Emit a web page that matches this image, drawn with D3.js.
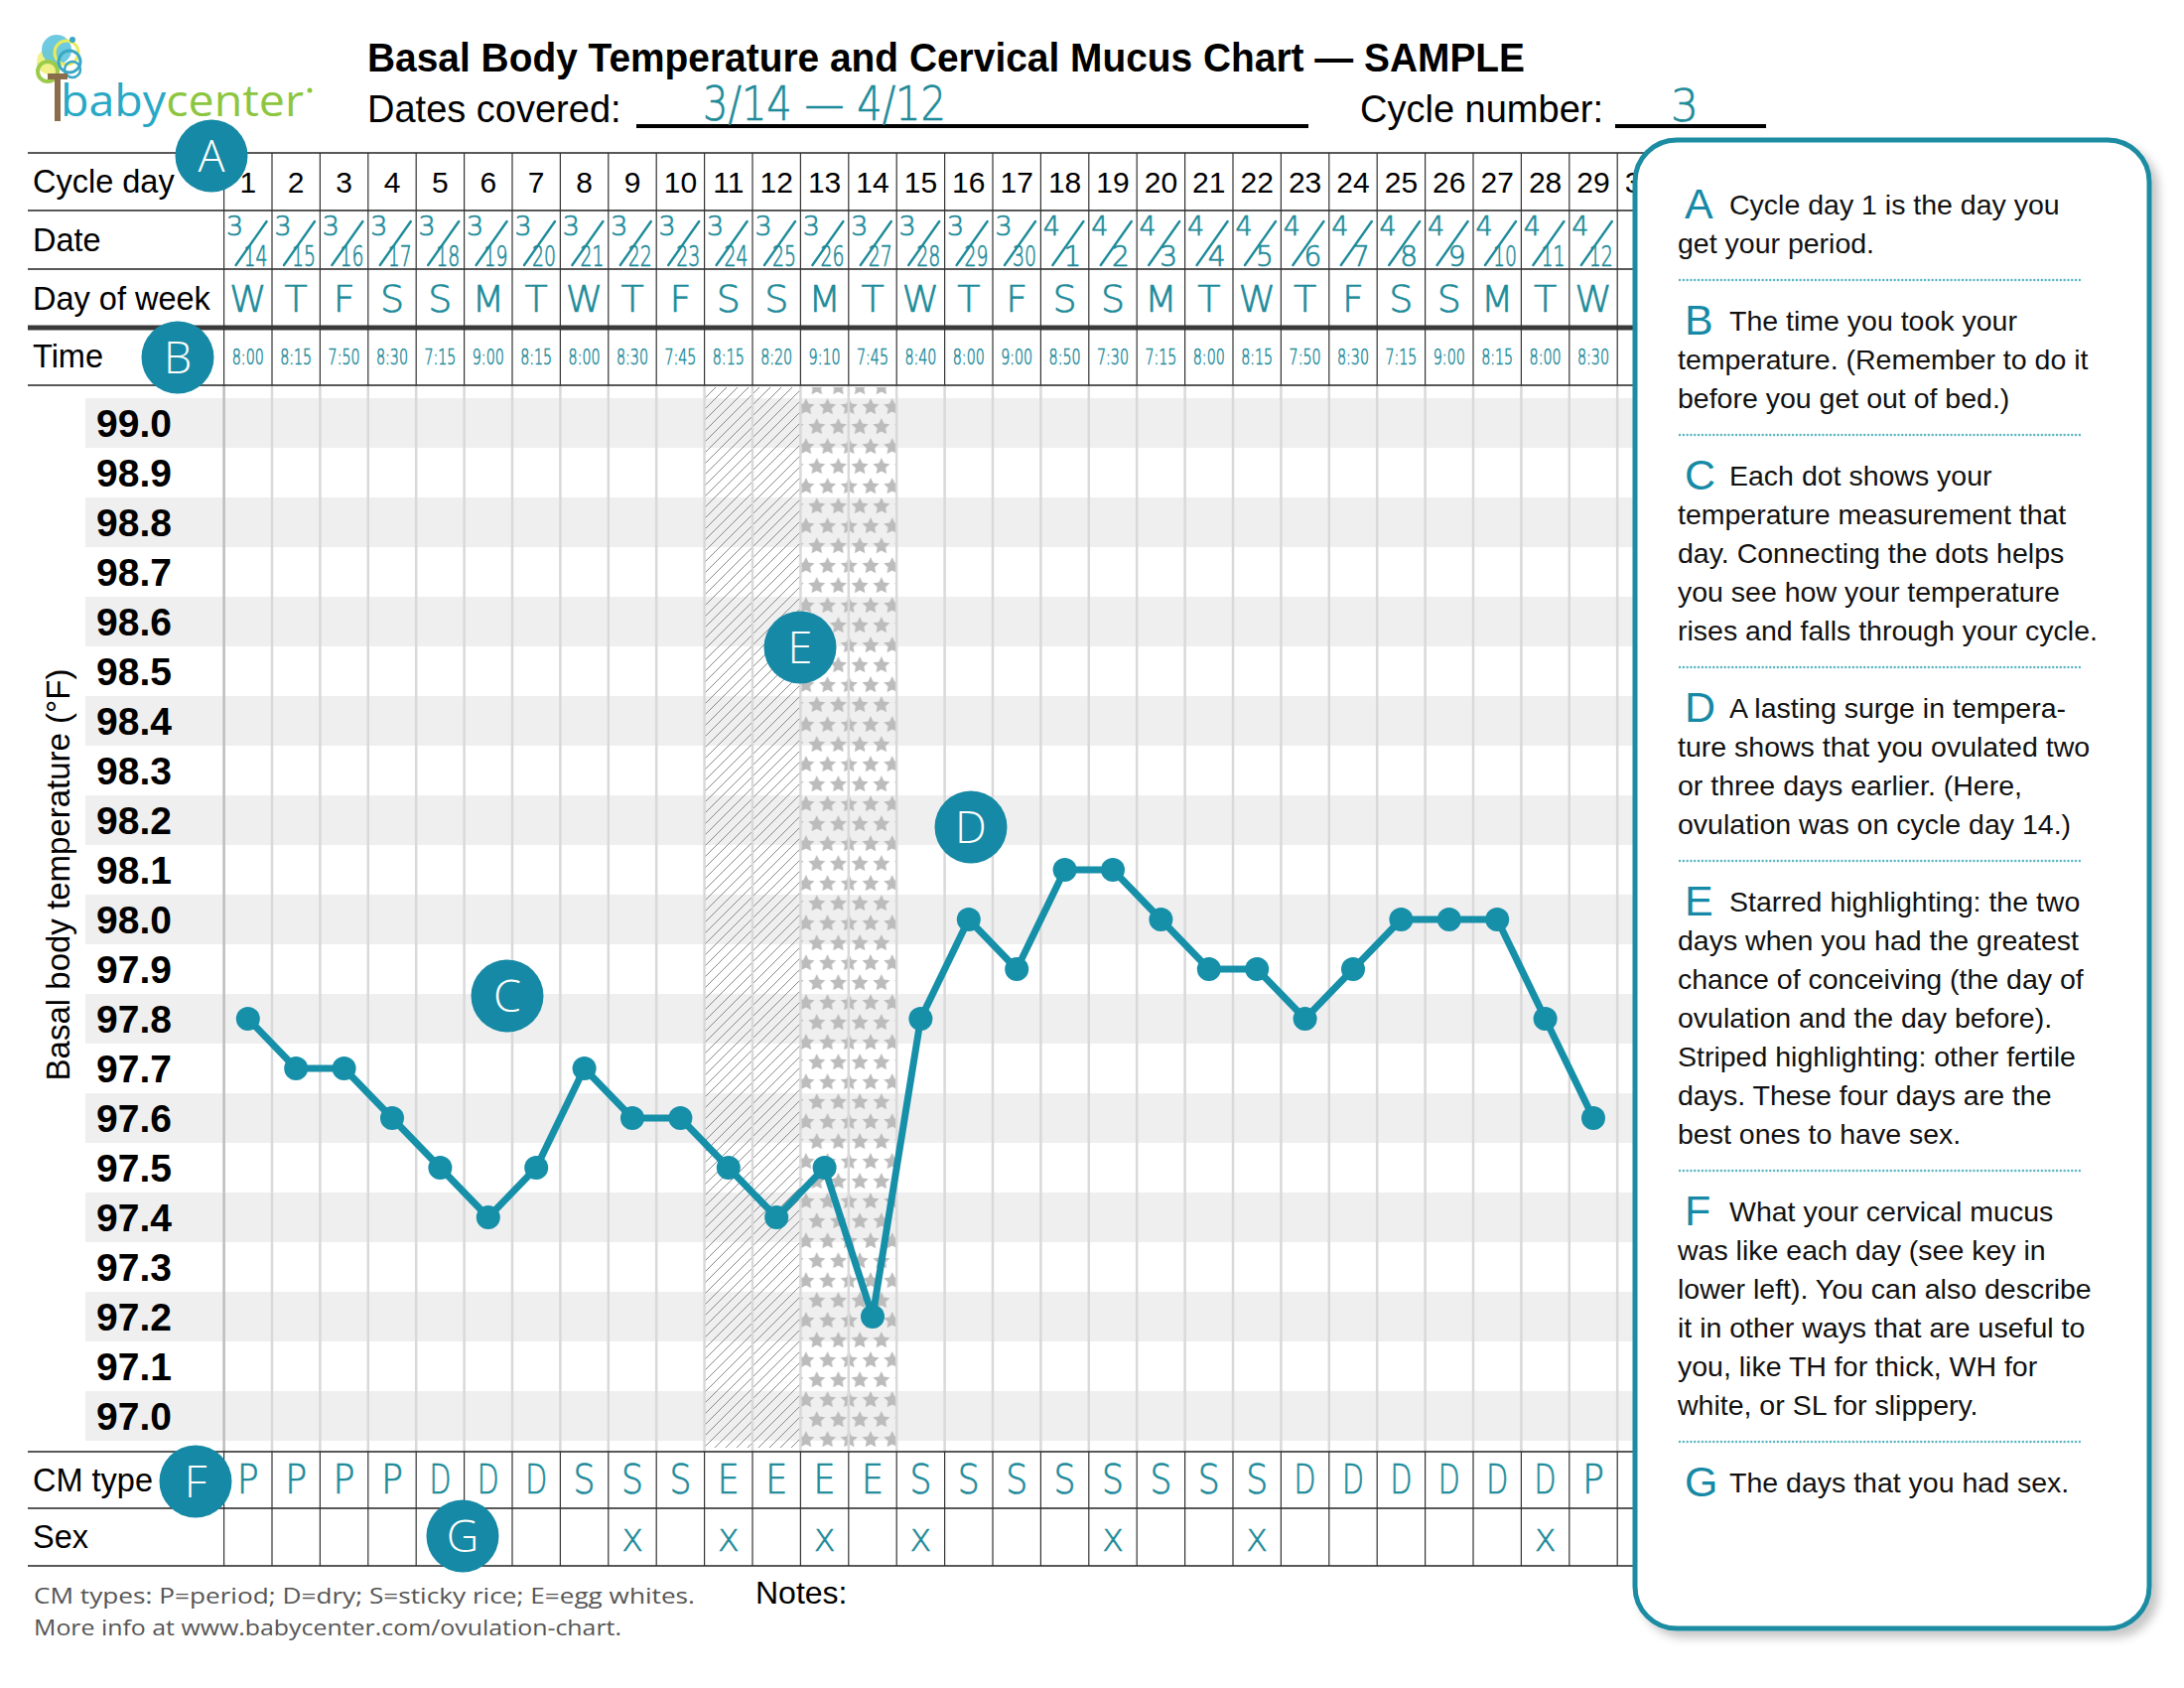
<!DOCTYPE html>
<html>
<head>
<meta charset="utf-8">
<script src="https://cdn.jsdelivr.net/npm/d3@7"></script>
<style>
  body { margin: 0; background: #fff; }
  svg { display: block; }
</style>
</head>
<body>
<svg id="chart" width="2200" height="1700"></svg>
<script>
// ---- data ----
const cycleDays = [1,2,3,4,5,6,7,8,9,10,11,12,13,14,15,16,17,18,19,20,21,22,23,24,25,26,27,28,29,30];
const dates = ["3/14","3/15","3/16","3/17","3/18","3/19","3/20","3/21","3/22","3/23","3/24","3/25","3/26","3/27",
               "3/28","3/29","3/30","4/1","4/2","4/3","4/4","4/5","4/6","4/7","4/8","4/9","4/10","4/11","4/12"];
const weekdays = ["W","T","F","S","S","M","T","W","T","F","S","S","M","T","W","T","F","S","S","M","T","W","T","F","S","S","M","T","W"];
const times = ["8:00","8:15","7:50","8:30","7:15","9:00","8:15","8:00","8:30","7:45","8:15","8:20","9:10","7:45",
               "8:40","8:00","9:00","8:50","7:30","7:15","8:00","8:15","7:50","8:30","7:15","9:00","8:15","8:00","8:30"];
const temps = [97.8,97.7,97.7,97.6,97.5,97.4,97.5,97.7,97.6,97.6,97.5,97.4,97.5,97.2,
               97.8,98.0,97.9,98.1,98.1,98.0,97.9,97.9,97.8,97.9,98.0,98.0,98.0,97.8,97.6];
const cmTypes = ["P","P","P","P","D","D","D","S","S","S","E","E","E","E",
                 "S","S","S","S","S","S","S","S","D","D","D","D","D","D","P"];
const sexDays = [9,11,13,15,19,22,28];
const tempTicks = ["99.0","98.9","98.8","98.7","98.6","98.5","98.4","98.3","98.2","98.1","98.0",
                   "97.9","97.8","97.7","97.6","97.5","97.4","97.3","97.2","97.1","97.0"];
const stripedDays = [11,12];
const starredDays = [13,14];
const rowLabels = ["Cycle day","Date","Day of week","Time"];

const notes = [
  {letter:"A", lines:["Cycle day 1 is the day you","get your period."]},
  {letter:"B", lines:["The time you took your","temperature. (Remember to do it","before you get out of bed.)"]},
  {letter:"C", lines:["Each dot shows your","temperature measurement that","day. Connecting the dots helps","you see how your temperature","rises and falls through your cycle."]},
  {letter:"D", lines:["A lasting surge in tempera-","ture shows that you ovulated two","or three days earlier. (Here,","ovulation was on cycle day 14.)"]},
  {letter:"E", lines:["Starred highlighting: the two","days when you had the greatest","chance of conceiving (the day of","ovulation and the day before).","Striped highlighting: other fertile","days. These four days are the","best ones to have sex."]},
  {letter:"F", lines:["What your cervical mucus","was like each day (see key in","lower left). You can also describe","it in other ways that are useful to","you, like TH for thick, WH for","white, or SL for slippery."]},
  {letter:"G", lines:["The days that you had sex."]}
];

// ---- layout ----
const L = {
  tableLeft: 28, tableRight: 1662,
  colLeft: 225.6, colW: 48.4,
  headRows: [154, 212, 271, 330, 388],
  plotTop: 401, rowH: 50,
  footRows: [1462, 1519, 1577],
  stripeLeft: 86
};
const badges = [
  {k:"A", x:213, y:157}, {k:"B", x:179, y:360}, {k:"C", x:511, y:1003},
  {k:"D", x:978, y:833}, {k:"E", x:806, y:652}, {k:"F", x:197, y:1492}, {k:"G", x:466, y:1547}
];

const teal = "#1589a5", hand = "#1d8b9a", lineTeal = "#168fa9";
const sans = "'Liberation Sans', Arial, Helvetica, sans-serif";
const thin = "'DejaVu Sans', sans-serif";

const svg = d3.select("#chart");
const defs = svg.append("defs");

const x = d3.scaleBand().domain(cycleDays)
  .range([L.colLeft, L.colLeft + cycleDays.length * L.colW]);
const bw = x.bandwidth();
const y = d3.scaleLinear().domain([97.0, 99.0])
  .range([L.plotTop + 20 * L.rowH + L.rowH / 2, L.plotTop + L.rowH / 2]);

// handwritten-looking teal text
function handText(sel, size) {
  return sel.attr("font-family", thin).attr("font-weight", 200)
    .attr("font-size", size).attr("fill", hand)
    .attr("stroke", hand).attr("stroke-width", 0.7);
}

// patterns
const hatch = defs.append("pattern").attr("id", "hatch")
  .attr("patternUnits", "userSpaceOnUse").attr("width", 11).attr("height", 11);
hatch.append("path").attr("d", "M-1,1 l2,-2 M0,11 l11,-11 M10,12 l2,-2")
  .attr("stroke", "#888").attr("stroke-width", 1);

const starPat = defs.append("pattern").attr("id", "stars")
  .attr("patternUnits", "userSpaceOnUse")
  .attr("x", x(starredDays[0]) + 5.5).attr("y", 400)
  .attr("width", 21.7).attr("height", 40);
const starPath = d3.lineRadial()
  .angle((d, i) => i * Math.PI / 5)
  .radius((d, i) => i % 2 === 0 ? 9 : 4.4)
  .curve(d3.curveLinearClosed)(d3.range(10));
[[0,10],[21.7,10],[10.85,30]].forEach(p => {
  starPat.append("path").attr("d", starPath)
    .attr("transform", `translate(${p[0]},${p[1]})`).attr("fill", "#bcbcbc");
});

const shadow = defs.append("filter").attr("id", "shadow")
  .attr("x", "-5%").attr("y", "-5%").attr("width", "115%").attr("height", "115%");
shadow.append("feDropShadow").attr("dx", 7).attr("dy", 7).attr("stdDeviation", 5)
  .attr("flood-color", "#000").attr("flood-opacity", 0.22);

// ---- header ----
const logo = svg.append("g");
logo.append("circle").attr("cx", 50).attr("cy", 62).attr("r", 13).attr("fill", "#eef17c").attr("opacity", 0.9);
logo.append("circle").attr("cx", 57).attr("cy", 50).attr("r", 15).attr("fill", "#5ec4dc").attr("opacity", 0.9);
logo.append("circle").attr("cx", 67).attr("cy", 53).attr("r", 12)
  .attr("fill", "none").attr("stroke", "#e9ec5a").attr("stroke-width", 3);
logo.append("circle").attr("cx", 48).attr("cy", 72).attr("r", 10)
  .attr("fill", "none").attr("stroke", "#9ccb4b").attr("stroke-width", 4);
logo.append("circle").attr("cx", 70).attr("cy", 62).attr("r", 11)
  .attr("fill", "none").attr("stroke", "#3aa7c4").attr("stroke-width", 3);
logo.append("circle").attr("cx", 73).attr("cy", 70).attr("r", 8)
  .attr("fill", "none").attr("stroke", "#3aa7c4").attr("stroke-width", 2.5);
logo.append("circle").attr("cx", 73).attr("cy", 40).attr("r", 3).attr("fill", "#3aa7c4");
logo.append("path").attr("d", "M58,122 L58,76 M48,77 L68,77")
  .attr("stroke", "#8a6d4a").attr("stroke-width", 6).attr("fill", "none");
const logoText = logo.append("text").attr("x", 61).attr("y", 117)
  .attr("font-family", "'Open Sans', sans-serif").attr("font-size", 44)
  .attr("textLength", 245).attr("lengthAdjust", "spacingAndGlyphs");
logoText.append("tspan").attr("fill", "#29a8c6").text("baby");
logoText.append("tspan").attr("fill", "#8cc63e").text("center");
logo.append("circle").attr("cx", 312).attr("cy", 91).attr("r", 2.5).attr("fill", "#8cc63e");

svg.append("text").attr("x", 370).attr("y", 72)
  .attr("font-family", sans).attr("font-weight", "bold").attr("font-size", 40)
  .attr("textLength", 1166).attr("lengthAdjust", "spacingAndGlyphs")
  .text("Basal Body Temperature and Cervical Mucus Chart \u2014 SAMPLE");

svg.append("text").attr("x", 370).attr("y", 123).attr("font-family", sans)
  .attr("font-size", 38).text("Dates covered:");
svg.append("line").attr("x1", 641).attr("x2", 1318).attr("y1", 127).attr("y2", 127)
  .attr("stroke", "#000").attr("stroke-width", 4);
handText(svg.append("text"), 48).attr("x", 708).attr("y", 121)
  .attr("textLength", 245).attr("lengthAdjust", "spacingAndGlyphs")
  .text(`${dates[0]} \u2014 ${dates[dates.length - 1]}`);

svg.append("text").attr("x", 1370).attr("y", 123).attr("font-family", sans)
  .attr("font-size", 38).text("Cycle number:");
svg.append("line").attr("x1", 1627).attr("x2", 1779).attr("y1", 127).attr("y2", 127)
  .attr("stroke", "#000").attr("stroke-width", 4);
handText(svg.append("text"), 44).attr("x", 1697).attr("y", 122)
  .attr("text-anchor", "middle").text("3");

// ---- temperature plot background ----
const plot = svg.append("g");
plot.selectAll("rect.stripe")
  .data(tempTicks.filter((t, i) => i % 2 === 0))
  .join("rect").attr("class", "stripe")
  .attr("x", L.stripeLeft).attr("width", L.tableRight - L.stripeLeft)
  .attr("y", d => y(+d) - L.rowH / 2).attr("height", L.rowH)
  .attr("fill", "#efefef");

const hlTop = L.headRows[4] + 2, hlH = L.footRows[0] - L.headRows[4] - 6;
plot.append("rect")
  .attr("x", x(stripedDays[0])).attr("width", x(stripedDays[stripedDays.length - 1]) + bw - x(stripedDays[0]))
  .attr("y", hlTop).attr("height", hlH).attr("fill", "url(#hatch)");
plot.append("rect")
  .attr("x", x(starredDays[0])).attr("width", x(starredDays[starredDays.length - 1]) + bw - x(starredDays[0]))
  .attr("y", hlTop).attr("height", hlH).attr("fill", "url(#stars)");

plot.selectAll("line.vgrid")
  .data(cycleDays)
  .join("line").attr("class", "vgrid")
  .attr("x1", d => x(d)).attr("x2", d => x(d))
  .attr("y1", L.headRows[4]).attr("y2", L.footRows[0])
  .attr("stroke", (d, i) => i === 0 ? "#bdbdbd" : "#d9d9d9")
  .attr("stroke-width", 2.5);

plot.selectAll("text.tick")
  .data(tempTicks)
  .join("text").attr("class", "tick")
  .attr("x", 173).attr("y", d => y(+d) + 14)
  .attr("text-anchor", "end")
  .attr("font-family", sans).attr("font-weight", "bold").attr("font-size", 39)
  .text(d => d);

svg.append("text")
  .attr("transform", `translate(70,${(y(97.0) + y(99.0)) / 2 - 45}) rotate(-90)`)
  .attr("text-anchor", "middle").attr("font-family", sans).attr("font-size", 33)
  .text("Basal body temperature (\u00B0F)");

// temperature line and dots
const line = d3.line().x((d, i) => x(cycleDays[i]) + bw / 2).y(d => y(d));
plot.append("path").datum(temps).attr("d", line)
  .attr("fill", "none").attr("stroke", lineTeal).attr("stroke-width", 7)
  .attr("stroke-linejoin", "round");
plot.selectAll("circle.dot")
  .data(temps)
  .join("circle").attr("class", "dot")
  .attr("cx", (d, i) => x(cycleDays[i]) + bw / 2).attr("cy", d => y(d))
  .attr("r", 12).attr("fill", lineTeal);

// ---- header table ----
const head = svg.append("g");
L.headRows.forEach((r, i) => {
  head.append("line").attr("x1", L.tableLeft).attr("x2", L.tableRight)
    .attr("y1", r).attr("y2", r)
    .attr("stroke", i === 3 ? "#3a3a3a" : "#222")
    .attr("stroke-width", i === 3 ? 5 : 1.4);
});
head.selectAll("line.hcol")
  .data(cycleDays)
  .join("line").attr("class", "hcol")
  .attr("x1", d => x(d)).attr("x2", d => x(d))
  .attr("y1", L.headRows[0]).attr("y2", L.headRows[4])
  .attr("stroke", "#333").attr("stroke-width", 1.2);

rowLabels.forEach((lab, i) => {
  head.append("text").attr("x", 33)
    .attr("y", (L.headRows[i] + L.headRows[i + 1]) / 2 + 11)
    .attr("font-family", sans).attr("font-size", 32.5).text(lab);
});

const rowMid = i => (L.headRows[i] + L.headRows[i + 1]) / 2;
head.selectAll("text.cday")
  .data(cycleDays)
  .join("text").attr("class", "cday")
  .attr("x", d => x(d) + bw / 2).attr("y", rowMid(0) + 11)
  .attr("text-anchor", "middle").attr("font-family", sans).attr("font-size", 30)
  .text(d => d);

// handwritten fractions for the dates
const dateG = head.selectAll("g.date")
  .data(dates)
  .join("g").attr("class", "date")
  .attr("transform", (d, i) => `translate(${x(cycleDays[i])},${L.headRows[1]})`);
handText(dateG.append("text"), 27).attr("x", 11).attr("y", 25)
  .attr("text-anchor", "middle")
  .text(d => d.split("/")[0]);
dateG.append("line").attr("x1", 12).attr("y1", 55).attr("x2", 43).attr("y2", 11)
  .attr("stroke", hand).attr("stroke-width", 2.4).attr("stroke-linecap", "round");
handText(dateG.append("text"), 28).attr("x", 32).attr("y", 56)
  .attr("text-anchor", "middle")
  .each(function (d) {
    const den = d.split("/")[1];
    const t = d3.select(this).text(den);
    if (den.length > 1) t.attr("textLength", 24).attr("lengthAdjust", "spacingAndGlyphs");
  });

handText(head.selectAll("text.dow").data(weekdays).join("text").attr("class", "dow"), 38)
  .attr("x", (d, i) => x(cycleDays[i]) + bw / 2).attr("y", rowMid(2) + 13)
  .attr("text-anchor", "middle")
  .text(d => d);

handText(head.selectAll("text.time").data(times).join("text").attr("class", "time"), 21)
  .attr("stroke-width", 0.6)
  .attr("x", (d, i) => x(cycleDays[i]) + bw / 2).attr("y", rowMid(3) + 8)
  .attr("text-anchor", "middle")
  .attr("textLength", 32).attr("lengthAdjust", "spacingAndGlyphs")
  .text(d => d);

// ---- CM type / Sex rows ----
const foot = svg.append("g");
L.footRows.forEach(r => {
  foot.append("line").attr("x1", L.tableLeft).attr("x2", L.tableRight)
    .attr("y1", r).attr("y2", r).attr("stroke", "#222").attr("stroke-width", 1.4);
});
foot.selectAll("line.fcol")
  .data(cycleDays)
  .join("line").attr("class", "fcol")
  .attr("x1", d => x(d)).attr("x2", d => x(d))
  .attr("y1", L.footRows[0]).attr("y2", L.footRows[2])
  .attr("stroke", "#333").attr("stroke-width", 1.2);
["CM type", "Sex"].forEach((lab, i) => {
  foot.append("text").attr("x", 33)
    .attr("y", (L.footRows[i] + L.footRows[i + 1]) / 2 + 11)
    .attr("font-family", sans).attr("font-size", 32.5).text(lab);
});
handText(foot.selectAll("text.cm").data(cmTypes).join("text").attr("class", "cm"), 40)
  .attr("x", (d, i) => x(cycleDays[i]) + bw / 2).attr("y", L.footRows[0] + 42)
  .attr("text-anchor", "middle")
  .attr("textLength", 22).attr("lengthAdjust", "spacingAndGlyphs")
  .text(d => d);
handText(foot.selectAll("text.sex").data(sexDays).join("text").attr("class", "sex"), 31)
  .attr("x", d => x(d) + bw / 2).attr("y", L.footRows[1] + 43)
  .attr("text-anchor", "middle")
  .text("X");

svg.append("text").attr("x", 34).attr("y", 1615)
  .attr("font-family", "'Open Sans', sans-serif").attr("font-size", 22).attr("fill", "#555")
  .attr("textLength", 666).attr("lengthAdjust", "spacingAndGlyphs")
  .text("CM types:  P=period;  D=dry;  S=sticky rice;  E=egg whites.");
svg.append("text").attr("x", 34).attr("y", 1647)
  .attr("font-family", "'Open Sans', sans-serif").attr("font-size", 22).attr("fill", "#555")
  .attr("textLength", 592).attr("lengthAdjust", "spacingAndGlyphs")
  .text("More info at www.babycenter.com/ovulation-chart.");
svg.append("text").attr("x", 761).attr("y", 1615)
  .attr("font-family", sans).attr("font-size", 32).text("Notes:");

// ---- lettered badges ----
const bg = svg.selectAll("g.badge")
  .data(badges)
  .join("g").attr("class", "badge")
  .attr("transform", d => `translate(${d.x},${d.y})`);
bg.append("circle").attr("r", 36.5).attr("fill", teal);
bg.append("text").attr("y", 16).attr("text-anchor", "middle")
  .attr("font-family", "'Open Sans', sans-serif").attr("font-weight", 300)
  .attr("font-size", 45).attr("fill", "#fff")
  .text(d => d.k);

// ---- explanation panel ----
const side = svg.append("g");
side.append("rect").attr("x", 1647).attr("y", 141).attr("width", 518).attr("height", 1499)
  .attr("rx", 42).attr("fill", "#fff").attr("stroke", "#1b8ca3").attr("stroke-width", 5)
  .attr("filter", "url(#shadow)");

let yy = 216;
notes.forEach((n, ni) => {
  side.append("text").attr("x", 1697).attr("y", yy + 4)
    .attr("font-family", sans).attr("font-size", 43).attr("fill", teal)
    .text(n.letter);
  n.lines.forEach((ln, li) => {
    side.append("text").attr("x", li === 0 ? 1742 : 1690).attr("y", yy + li * 39)
      .attr("font-family", sans).attr("font-size", 28.5).attr("fill", "#111")
      .text(ln);
  });
  const last = yy + (n.lines.length - 1) * 39;
  if (ni < notes.length - 1) {
    side.append("line").attr("x1", 1692).attr("x2", 2097)
      .attr("y1", last + 27).attr("y2", last + 27)
      .attr("stroke", "#5db6c2").attr("stroke-width", 2.4)
      .attr("stroke-dasharray", "0.1 3.7").attr("stroke-linecap", "round");
  }
  yy = last + 78;
});
</script>
</body>
</html>
